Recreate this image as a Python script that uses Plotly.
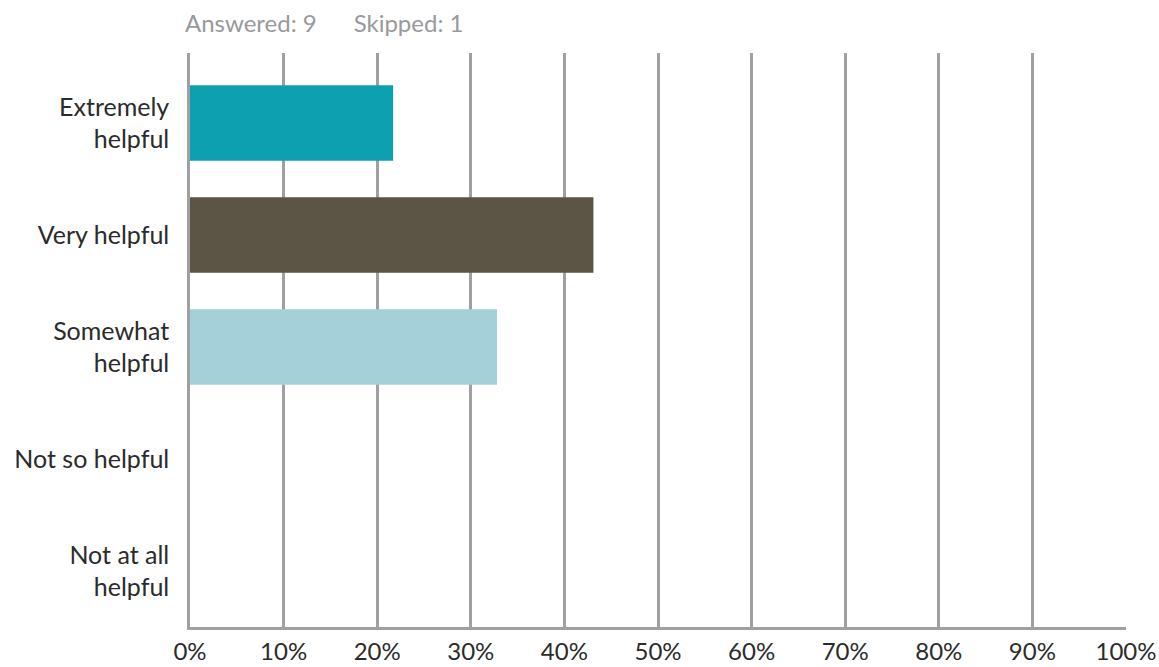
import plotly.graph_objects as go

categories = ["Extremely<br>helpful", "Very helpful", "Somewhat<br>helpful", "Not so helpful", "Not at all<br>helpful"]
values = [21.7, 43.1, 32.8, 0, 0]
colors = ["#0ca0b0", "#5c5444", "#a6d0d9", "#d9d9d9", "#d9d9d9"]
x_ticks = [0, 10, 20, 30, 40, 50, 60, 70, 80, 90, 100]
x_tick_labels = [f"{v}%" for v in x_ticks]

FONT = "Lato"
ML, MR, MT, MB = 190, 33, 53, 40

fig = go.Figure(go.Bar(
    x=values, y=categories, orientation="h",
    marker=dict(color=colors, line=dict(width=0)),
    width=0.676, hoverinfo="skip",
))

fig.update_layout(
    width=1159, height=667,
    margin=dict(l=ML, r=MR, t=MT, b=MB),
    paper_bgcolor="white", plot_bgcolor="white",
    showlegend=False,
    font=dict(family=FONT, color="#2b2b2b", size=25),
    xaxis=dict(
        range=[0, 100], tickvals=x_ticks, ticktext=x_tick_labels,
        showgrid=True, gridcolor="#a0a0a4", gridwidth=2.5,
        zeroline=False, showline=True, linecolor="#a0a0a4", linewidth=2.5,
        ticks="", ticklabelstandoff=1,
        tickfont=dict(size=24, color="#2b2b2b", family=FONT),
        fixedrange=True, automargin=False,
    ),
    yaxis=dict(
        type="category", categoryorder="array", categoryarray=categories,
        range=[4.5, -0.625],
        showgrid=False, zeroline=False, showline=True,
        linecolor="#a0a0a4", linewidth=2.5,
        ticks="", ticklabelstandoff=13,
        tickfont=dict(size=25, color="#2b2b2b", family=FONT),
        fixedrange=True, automargin=False,
    ),
)
plot_w = 1159 - ML - MR
plot_h = 667 - MT - MB
fig.add_annotation(
    text="Answered: 9&nbsp;&nbsp;&nbsp;&nbsp;&nbsp;&nbsp;Skipped: 1",
    x=(183 - ML) / plot_w, y=(667 - MB - 22) / plot_h,
    xref="paper", yref="paper", showarrow=False,
    font=dict(size=24, color="#98999c", family=FONT),
    xanchor="left", yanchor="middle",
)

fig.write_html("out.html")
